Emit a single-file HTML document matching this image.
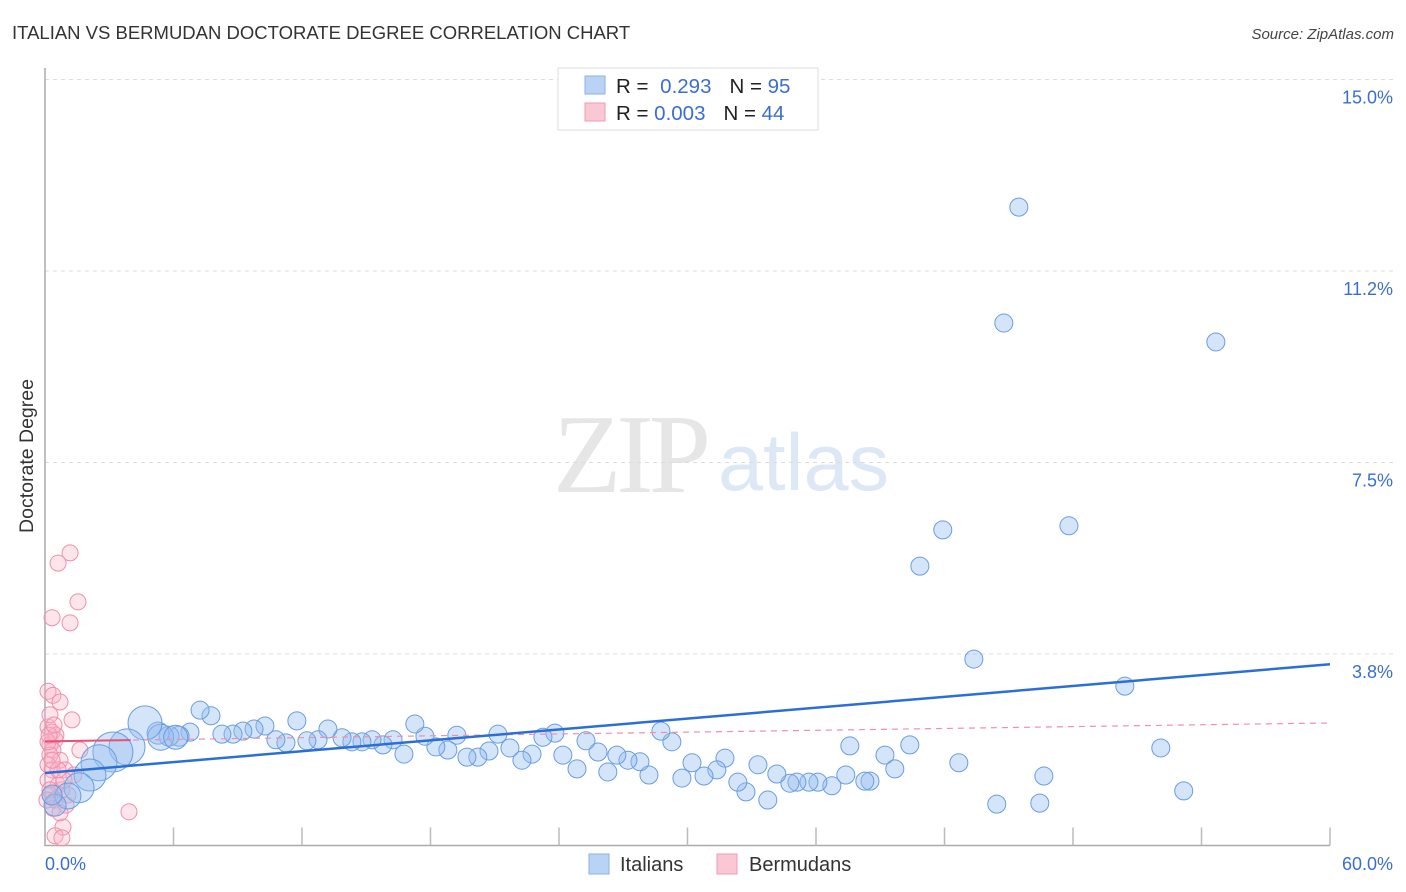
<!DOCTYPE html>
<html><head><meta charset="utf-8"><style>
body{margin:0;background:#fff;font-family:"Liberation Sans",sans-serif}
svg{display:block}
</style></head><body>
<svg id="chart" width="1406" height="892" viewBox="0 0 1406 892" xmlns="http://www.w3.org/2000/svg">
<text x="12" y="39" font-size="18.5" fill="#333" font-family="Liberation Sans">ITALIAN VS BERMUDAN DOCTORATE DEGREE CORRELATION CHART</text>
<text x="1394" y="39" font-size="15" fill="#444" text-anchor="end" font-style="italic">Source: ZipAtlas.com</text>
<g>
<text x="553" y="492" font-family="Liberation Serif" font-size="112" fill="#e6e6e6" letter-spacing="-5">ZIP</text>
<text x="718" y="490" font-family="Liberation Sans" font-size="81" fill="#dde8f6">atlas</text>
</g>
<g id="grid"></g>
<g id="axes"></g>
<g id="pink"></g>
<g id="blue"></g>
<g id="trends"></g>
<text transform="translate(33,456) rotate(-90)" font-size="19.5" fill="#333" text-anchor="middle">Doctorate Degree</text>
<g>
<rect x="558" y="68" width="260" height="62" fill="#fff" stroke="#ddd"/>
<rect x="585" y="76" width="20" height="18" fill="#b9d3f5" stroke="#8ab2ea"/>
<rect x="585" y="103" width="20" height="18" fill="#fac7d5" stroke="#f19ab2"/>
<text x="616" y="93" font-size="20.5" fill="#222">R = <tspan fill="#3a6fcf" dx="6">0.293</tspan><tspan dx="18" fill="#222">N = </tspan><tspan fill="#3a6fcf">95</tspan></text>
<text x="616" y="120" font-size="20.5" fill="#222">R = <tspan fill="#3a6fcf">0.003</tspan><tspan dx="18" fill="#222">N = </tspan><tspan fill="#3a6fcf">44</tspan></text>
</g>
<g>
<rect x="589" y="854" width="20" height="20" fill="#b9d3f5" stroke="#8ab2ea"/>
<text x="620" y="871" font-size="20" fill="#333">Italians</text>
<rect x="717" y="854" width="20" height="20" fill="#fac7d5" stroke="#f19ab2"/>
<text x="749" y="871" font-size="20" fill="#333">Bermudans</text>
</g>
</svg>
<script>
const yTicks=[3.75,7.5,11.25,15];
const yTickLabels=["3.8%","7.5%","11.2%","15.0%"];
const xTickLabels=["0.0%","60.0%"];
const blueX=[45.47,44.77,54.67,41.92,47.81,40.85,43.37,50.42,52.10,53.17,44.44,46.45,46.64,42.67,40.38,39.22,37.58,39.68,38.52,38.28,37.39,36.74,36.09,35.67,35.11,34.78,34.17,33.75,33.29,32.73,32.35,31.75,31.37,30.77,30.21,29.74,29.27,28.76,28.20,27.78,27.22,26.70,26.28,25.82,25.26,24.84,24.18,23.81,23.25,22.74,22.27,21.71,21.15,20.73,20.21,19.70,19.23,18.81,18.25,17.74,17.27,16.76,16.25,15.78,15.27,14.80,14.33,13.87,13.21,12.75,12.23,11.76,11.25,10.78,10.27,9.76,9.24,8.78,8.26,7.75,7.24,6.77,6.26,5.79,5.28,5.4,6.1,4.67,3.83,3.17,2.52,2.10,1.59,1.07,0.47,0.33];
const blueY=[12.50,10.23,9.86,6.18,6.26,5.47,3.65,3.12,1.91,1.07,0.81,0.83,1.36,1.62,1.97,1.77,1.95,1.50,1.26,1.26,1.38,1.17,1.24,1.24,1.24,1.22,1.40,0.89,1.58,1.05,1.24,1.71,1.48,1.36,1.62,1.32,2.03,2.24,1.38,1.64,1.67,1.77,1.44,1.83,2.05,1.50,1.77,2.20,2.12,1.79,1.67,1.91,2.18,1.85,1.73,1.73,2.16,1.87,1.93,2.14,2.38,1.79,2.07,1.97,2.07,2.03,2.03,2.11,2.28,2.07,2.05,2.44,2.01,2.07,2.34,2.28,2.24,2.18,2.18,2.54,2.65,2.22,2.14,2.14,2.20,2.12,2.12,2.40,1.93,1.83,1.62,1.38,1.13,0.97,0.79,0.99];
const blueR=[9,9,9,9,9,9,9,9,9,9,9,9,9,9,9,9,9,9,9,9,9,9,9,9,9,9,9,9,9,9,9,9,9,9,9,9,9,9,9,9,9,9,9,9,9,9,9,9,9,9,9,9,9,9,9,9,9,9,9,9,9,9,9,9,9,9,9,9,9,9,9,9,9,9,9,9,9,9,9,9,9,9,10,10,11,13,12,17,18,20,18,16,15,13,11,10];
const pinkX=[1.17,0.61,1.54,0.33,1.17,0.14,0.37,0.70,1.26,0.14,0.33,0.47,0.23,0.37,0.23,0.70,0.14,0.33,0.93,1.35,0.14,0.61,0.79,0.23,0.47,1.07,0.37,3.92,0.84,0.47,0.79,1.63,0.23,0.51,0.14,0.89,0.61,0.33,0.19,0.42,0.23,0.98,0.70,0.09];
const pinkY=[5.73,5.53,4.77,4.46,4.36,3.02,2.94,2.81,2.46,2.32,2.22,2.07,1.97,1.87,1.77,1.67,1.58,1.48,1.48,1.38,1.28,1.18,1.09,0.99,0.89,0.99,0.73,0.66,0.36,0.19,0.15,1.87,2.56,2.16,2.03,1.28,1.48,1.67,2.16,2.36,1.09,0.79,0.64,0.89];
const blueTrend=[1.42,3.55];
const pinkTrend=[2.04,2.40];
const NS="http://www.w3.org/2000/svg";
const X0=45,X1=1330,Y0=845.5,YPER=51.07;
function sx(v){return X0+(X1-X0)*v/60;}
function sy(v){return Y0-v*YPER;}
function mk(tag,attrs,parent){const e=document.createElementNS(NS,tag);for(const k in attrs)e.setAttribute(k,attrs[k]);parent.appendChild(e);return e;}
const grid=document.getElementById('grid'),axes=document.getElementById('axes');
yTicks.forEach((t,i)=>{
 const l=mk('line',{x1:X0,x2:1394,y1:sy(t),y2:sy(t),stroke:'#dcdcdc','stroke-dasharray':'4,4'},grid);
 
 
 const tx=mk('text',{x:1393,y:sy(t)+24,'font-size':18,fill:'#3a6fcf','text-anchor':'end'},axes);
 tx.textContent=yTickLabels[i];
 
 
});
const ax=mk('path',{d:`M${X0} 68 V${Y0} H${X1}`,stroke:'#aaa',fill:'none','stroke-width':1.5},axes);


for(let i=1;i<=10;i++){
 const t=mk('line',{x1:sx(i*6),x2:sx(i*6),y1:Y0,y2:Y0-18,stroke:'#bbb','stroke-width':1.5},axes);
 
 
}
const xl0=mk('text',{x:45,y:870,'font-size':18,fill:'#3a6fcf'},axes);xl0.textContent=xTickLabels[0];


const xl1=mk('text',{x:1393,y:870,'font-size':18,fill:'#3a6fcf','text-anchor':'end'},axes);xl1.textContent=xTickLabels[1];


const pg=document.getElementById('pink');
pinkX.forEach((x,i)=>{
 const c=mk('circle',{cx:sx(x),cy:sy(pinkY[i]),r:8,fill:'rgba(248,180,200,0.35)',stroke:'#f08fab','stroke-width':1},pg);
 
 
});
const bg=document.getElementById('blue');
blueX.forEach((x,i)=>{
 const c=mk('circle',{cx:sx(x),cy:sy(blueY[i]),r:blueR[i],fill:'rgba(150,190,240,0.4)',stroke:'#6a9de0','stroke-width':1},bg);
 
 
});
const tg=document.getElementById('trends');
const pd=mk('line',{x1:sx(0),y1:sy(pinkTrend[0]),x2:sx(60),y2:sy(pinkTrend[1]),stroke:'#f08fab','stroke-width':1.2,'stroke-dasharray':'6,5'},tg);


const ps=mk('line',{x1:sx(0),y1:sy(pinkTrend[0]),x2:sx(4),y2:sy(pinkTrend[0]+(pinkTrend[1]-pinkTrend[0])*4/60),stroke:'#e8507a','stroke-width':2},tg);


const bl=mk('line',{x1:sx(0),y1:sy(blueTrend[0]),x2:sx(60),y2:sy(blueTrend[1]),stroke:'#2b6fd6','stroke-width':2.5},tg);


</script>
</body></html>
